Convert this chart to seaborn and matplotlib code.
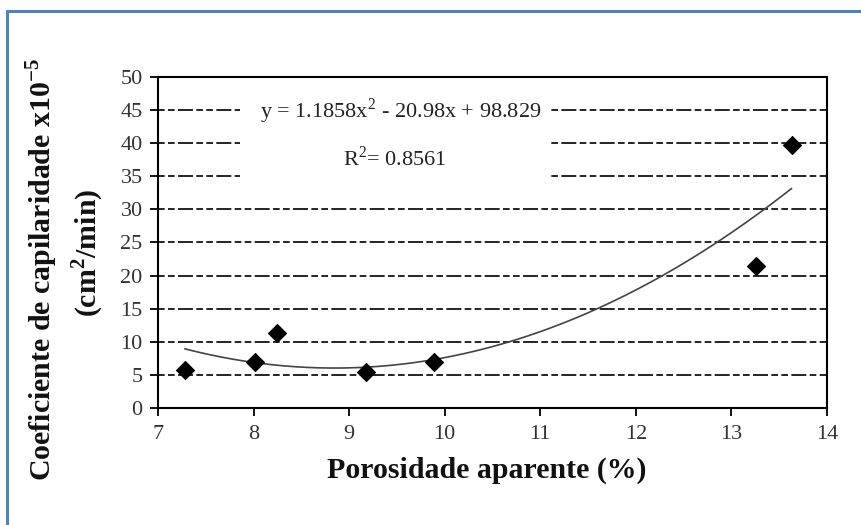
import numpy as np
import pandas as pd
import matplotlib
matplotlib.use("Agg")
import matplotlib.pyplot as plt
from matplotlib.lines import Line2D
from matplotlib.patches import Rectangle
import seaborn as sns

# Measured samples
porosidade = [7.28, 8.01, 8.24, 9.18, 9.89, 13.26, 13.63]
capilaridade = [5.8, 7.0, 11.3, 5.5, 7.0, 21.5, 39.8]

# Quadratic trend line coefficients (a, b, c) and fit quality
coef = [1.1858, -20.98, 98.829]
r2 = 0.8561

x_ticks = [7, 8, 9, 10, 11, 12, 13, 14]
y_ticks = [0, 5, 10, 15, 20, 25, 30, 35, 40, 45, 50]

sns.set_theme(style="white")
plt.rcParams["font.family"] = ["Liberation Serif", "DejaVu Serif"]
plt.rcParams["mathtext.fontset"] = "custom"
plt.rcParams["mathtext.rm"] = "Liberation Serif"
plt.rcParams["mathtext.bf"] = "Liberation Serif:bold"

fig = plt.figure(figsize=(8.61, 5.25), dpi=100)
ax = fig.add_axes([0.1835, 0.2229, 0.777, 0.6304])

df = pd.DataFrame({"x": porosidade, "y": capilaridade})
xs = np.linspace(min(porosidade), max(porosidade), 200)
trend = pd.DataFrame({"x": xs, "y": np.polyval(coef, xs)})

# dash-dot horizontal grid
for yv in y_ticks[1:-1]:
    ax.axhline(yv, color="black", lw=1.2, ls=(0, (4, 2, 4, 2, 9, 2)), zorder=1)

# white panel behind the equation
ax.add_patch(Rectangle((7.86, 32.3), 3.24, 15.2, facecolor="white",
                       edgecolor="none", zorder=2))

sns.lineplot(data=trend, x="x", y="y", ax=ax, color="#444444", lw=1.2,
             zorder=3, legend=False)
sns.scatterplot(data=df, x="x", y="y", ax=ax, marker="D", s=85,
                color="black", edgecolor="black", zorder=4, legend=False)

ax.text(9.54, 44.8, r"y = 1.1858x$^{2}$ - 20.98x + 98.829", ha="center",
        va="center", fontsize=16, color="#222222", zorder=5)
ax.text(9.48, 37.7, r"R$^{2}$= 0.8561", ha="center", va="center",
        fontsize=16, color="#222222", zorder=5)

ax.set_xlim(7, 14)
ax.set_ylim(0, 50)
ax.set_xticks(x_ticks)
ax.set_yticks(y_ticks)
ax.set_xticklabels([str(v) for v in x_ticks])
ax.set_yticklabels([str(v) for v in y_ticks])
ax.tick_params(axis="both", direction="out", length=6, width=1.3,
               colors="black", labelcolor="#333333", labelsize=16, pad=5)
ax.tick_params(axis="x", pad=6)
ax.tick_params(left=True, bottom=True)
for sp in ax.spines.values():
    sp.set_color("black")
    sp.set_linewidth(1.5)

ax.set_xlabel("")
ax.set_ylabel("")

fig.text(0.565, 0.105, "Porosidade aparente (%)", ha="center", va="center",
         fontsize=21.5, fontweight="bold", color="#111111")
fig.text(0.049, 0.486, r"Coeficiente de capilaridade x10$^{\mathbf{-5}}$",
         rotation=90, ha="center", va="center", fontsize=21.5,
         fontweight="bold", color="#111111")
fig.text(0.102, 0.518, r"(cm$^{\mathbf{2}}$/min)", rotation=90, ha="center",
         va="center", fontsize=21.5, fontweight="bold", color="#111111")

# blue frame along the top and left edges
frame_c = "#4F81BD"
fig.add_artist(Line2D([0.0081, 1.0], [0.980, 0.980], color=frame_c, lw=2.2,
                      transform=fig.transFigure))
fig.add_artist(Line2D([0.0081, 0.0081], [0.0, 0.980], color=frame_c, lw=2.2,
                      transform=fig.transFigure))

fig.savefig("out.png", dpi=100, facecolor="white")
